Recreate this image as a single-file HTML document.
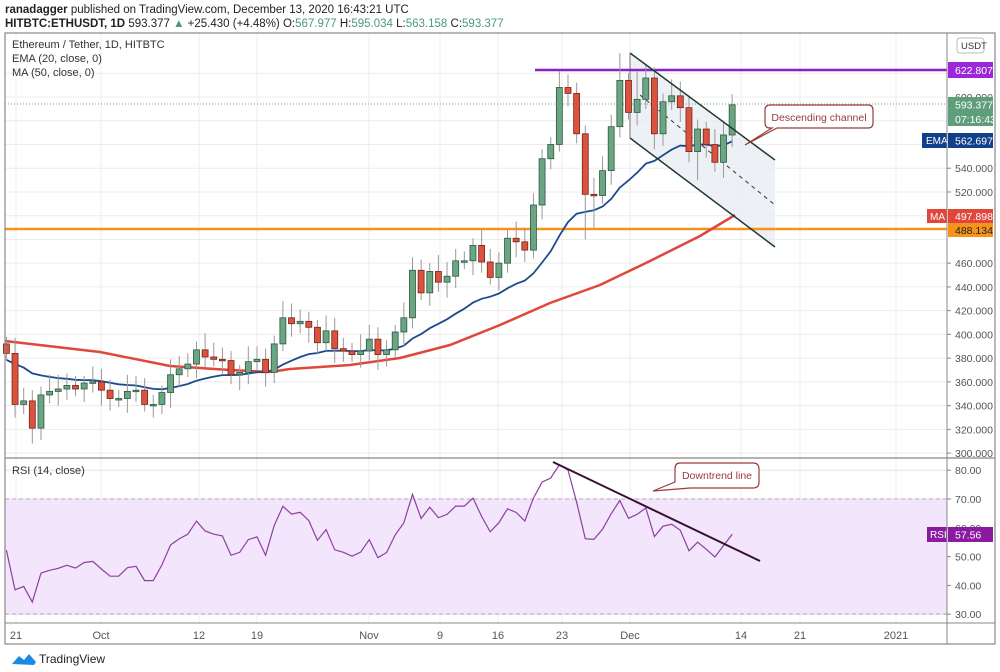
<!DOCTYPE html>
<html><head><meta charset="utf-8"><style>
html,body{margin:0;padding:0;background:#fff;width:1000px;height:672px;overflow:hidden}
svg text{font-family:"Liberation Sans",sans-serif}
</style></head><body>
<svg id="s" width="1000" height="672" xmlns="http://www.w3.org/2000/svg">
<rect width="1000" height="672" fill="#fff"/>
<text x="5" y="13" font-size="11.5" fill="#222"><tspan font-weight="bold">ranadagger</tspan> published on TradingView.com, December 13, 2020 16:43:21 UTC</text>
<text x="5" y="27" font-size="11.5" fill="#222"><tspan font-weight="bold">HITBTC:ETHUSDT, 1D</tspan> 593.377 <tspan fill="#4a9a7a">▲</tspan> +25.430 (+4.48%) O:<tspan fill="#4a9a7a">567.977</tspan> H:<tspan fill="#4a9a7a">595.034</tspan> L:<tspan fill="#4a9a7a">563.158</tspan> C:<tspan fill="#4a9a7a">593.377</tspan></text>
<g id="grid"></g>
<rect x="5" y="499" width="942" height="115" fill="#f3e5fc"/>
<line x1="5" y1="499" x2="947" y2="499" stroke="#b9a3c6" stroke-dasharray="4,3"/>
<line x1="5" y1="614" x2="947" y2="614" stroke="#b9a3c6" stroke-dasharray="4,3"/>
<g id="g2"></g>
<rect x="5" y="33" width="990" height="611" fill="none" stroke="#888" stroke-width="1.2"/>
<line x1="947" y1="33" x2="947" y2="644" stroke="#888"/>
<line x1="5" y1="458" x2="995" y2="458" stroke="#888" stroke-width="1.2"/>
<line x1="5" y1="623" x2="995" y2="623" stroke="#888"/>
<text x="12" y="48" font-size="11" fill="#333">Ethereum / Tether, 1D, HITBTC</text>
<text x="12" y="62" font-size="11" fill="#333">EMA (20, close, 0)</text>
<text x="12" y="76" font-size="11" fill="#333">MA (50, close, 0)</text>
<text x="12" y="474" font-size="11" fill="#333">RSI (14, close)</text>
<rect x="957" y="38" width="27" height="15" rx="3" fill="#fff" stroke="#bbb"/>
<text x="961" y="49" font-size="9.5" fill="#333">USDT</text>
<g font-size="11" fill="#555">
<text x="16" y="639" text-anchor="middle">21</text><text x="101" y="639" text-anchor="middle">Oct</text>
<text x="199" y="639" text-anchor="middle">12</text><text x="257" y="639" text-anchor="middle">19</text>
<text x="369" y="639" text-anchor="middle">Nov</text><text x="440" y="639" text-anchor="middle">9</text>
<text x="498" y="639" text-anchor="middle">16</text><text x="562" y="639" text-anchor="middle">23</text>
<text x="630" y="639" text-anchor="middle">Dec</text><text x="741" y="639" text-anchor="middle">14</text>
<text x="800" y="639" text-anchor="middle">21</text><text x="896" y="639" text-anchor="middle">2021</text>
</g>
<g transform="translate(12,652)"><path d="M0 12 L7 4 L12 8 L17 2 L24 10 L22 13 Z" fill="#1e88e5"/><text x="27" y="11" font-size="12" fill="#222">TradingView</text></g>
</svg>
<script>
var C=[384,341,344,321,349,352,354,357,354,359,360,353,346,346,352,353,341,341,351,366,371,375,387,381,379,378,366,368,377,379,368,392,414,409,411,406,393,403,388,386,383,386,396,383,387,402,414,454,435,453,444,449,462,462,475,461,448,460,481,478,471,509,548,560,608,603,569,518,517,538,575,614,587,598,616,569,596,601,591,554,573,560,545,568,593.4];
var O=[392];for(var i=1;i<C.length;i++)O.push(C[i-1]);
var HX={64:622,71:637,67:480,80:530,73:622,68:490};
function X(i){return 6.4+i*8.64}
function Y(p){return 97+(600-p)*1.187}
function RY(r){return 499+(70-r)*2.88}
var s='',g='';
for(var p=300;p<=620;p+=20){var y=Y(p);g+='<line x1="5" y1="'+y+'" x2="947" y2="'+y+'" stroke="#ececec"/>';
 if(![620,600,580,560,500,480].includes(p))g+='<line x1="947" y1="'+y+'" x2="951" y2="'+y+'" stroke="#888"/><text x="955" y="'+(y+4)+'" font-size="10.5" fill="#555">'+p+'.000</text>';}
g+='<text x="955" y="'+(Y(600)+4)+'" font-size="10.5" fill="#555">600.000</text>';
[30,40,50,60,70,80].forEach(function(r){var y=RY(r);g+='<line x1="5" y1="'+y+'" x2="947" y2="'+y+'" stroke="#e4dde8"/><line x1="947" y1="'+y+'" x2="951" y2="'+y+'" stroke="#888"/><text x="955" y="'+(y+4)+'" font-size="10.5" fill="#555">'+r+'.00</text>';});
[16,101,199,257,369,440,498,562,630,741,800,896].forEach(function(x){g+='<line x1="'+x+'" y1="33" x2="'+x+'" y2="623" stroke="#ececec"/>';});
document.getElementById('grid').innerHTML=g;
s+='<polygon points="630,53 775,160 775,247 630,138" fill="#e9edf2" opacity="0.8"/>';
s+='<line x1="630" y1="53" x2="630" y2="138" stroke="#555" stroke-width="0.8"/>';
s+='<line x1="640" y1="95" x2="775" y2="205" stroke="#333" stroke-dasharray="4,4" stroke-width="1"/>';
s+='<line x1="5" y1="229" x2="947" y2="229" stroke="#f7931a" stroke-width="2.5"/>';
s+='<line x1="535" y1="70" x2="947" y2="70" stroke="#8b1fc4" stroke-width="2.5"/>';
s+='<line x1="5" y1="104" x2="947" y2="104" stroke="#6aa584" stroke-dasharray="1,2"/>';
var mp=[[5,341],[100,352],[170,366],[230,370],[270,372],[290,369],[350,365],[400,358],[450,345],[500,325],[550,303],[600,285],[650,261],[700,236],[735,215]];
s+='<polyline points="'+mp.join(' ')+'" fill="none" stroke="#e0463a" stroke-width="2.5"/>';
var e=378,ep=[],k=2/21;for(i=0;i<C.length;i++){e=C[i]*k+e*(1-k);ep.push(X(i).toFixed(1)+','+Y(e).toFixed(1));}
s+='<polyline points="'+ep.join(' ')+'" fill="none" stroke="#1d4a8f" stroke-width="1.8"/>';
for(i=0;i<C.length;i++){var o=O[i],c=C[i],up=c>=o,hi=Math.max(o,c)+6+(i*7%9),lo=Math.min(o,c)-6-(i*5%8);
 if(HX[i]){if(HX[i]>Math.max(o,c))hi=HX[i];else lo=HX[i];}
 var x=X(i),t=Y(Math.max(o,c)),b=Y(Math.min(o,c));if(b-t<1.5)b=t+1.5;
 s+='<line x1="'+x+'" y1="'+Y(hi)+'" x2="'+x+'" y2="'+Y(lo)+'" stroke="#999"/>';
 s+='<rect x="'+(x-3)+'" y="'+t+'" width="6" height="'+(b-t)+'" fill="'+(up?'#6ba584':'#d9533f')+'" stroke="'+(up?'#2c5a40':'#7a2318')+'" stroke-width="0.8"/>';}
s+='<line x1="630" y1="53" x2="775" y2="160" stroke="#1d3a33" stroke-width="1.5"/>';
s+='<line x1="630" y1="138" x2="775" y2="247" stroke="#1d3a33" stroke-width="1.5"/>';
var ag=5.2,al=4.6,rp=[];for(i=0;i<C.length;i++){var d=i?C[i]-C[i-1]:-2;ag=(ag*13+Math.max(d,0))/14;al=(al*13+Math.max(-d,0))/14;var r=100-100/(1+ag/al);rp.push(X(i).toFixed(1)+','+RY(r).toFixed(1));}
s+='<polyline points="'+rp.join(' ')+'" fill="none" stroke="#8e3fa0" stroke-width="1.2"/>';
s+='<line x1="553" y1="462" x2="760" y2="561" stroke="#3a1030" stroke-width="2"/>';
s+='<path d="M770 105 H868 Q873 105 873 110 V123 Q873 128 868 128 H777 L745 145 L772 128 H770 Q765 128 765 123 V110 Q765 105 770 105Z" fill="#fff" stroke="#9b3a3a" stroke-width="1.2"/><text x="819" y="121" font-size="10.5" fill="#9b3a3a" text-anchor="middle">Descending channel</text>';
s+='<path d="M680 463 H753 Q759 463 759 469 V482 Q759 488 753 488 H690 L653 491 L675 482 V469 Q675 463 680 463Z" fill="#fff" stroke="#9b3a3a" stroke-width="1.2"/><text x="717" y="479" font-size="10.5" fill="#9b3a3a" text-anchor="middle">Downtrend line</text>';
function lab(y,h,bg,t){return '<rect x="948" y="'+y+'" width="45" height="'+h+'" fill="'+bg+'"/><text x="955" y="'+(y+h/2+4)+'" font-size="10.5" fill="#fff">'+t+'</text>';}
s+=lab(62,16,'#9c27d8','622.807');
s+=lab(97,15,'#5e9e7a','593.377');
s+=lab(112,14,'#5e9e7a','07:16:43');
s+=lab(133,15,'#123f8c','562.697');
s+='<rect x="922" y="133" width="25" height="15" fill="#123f8c"/><text x="926" y="144" font-size="10" fill="#fff">EMA</text>';
s+=lab(209,14,'#e0463a','497.898');
s+='<rect x="927" y="209" width="20" height="14" fill="#e0463a"/><text x="930" y="220" font-size="10" fill="#fff">MA</text>';
s+='<rect x="948" y="223" width="45" height="14" fill="#f7931a"/><text x="955" y="234" font-size="10.5" fill="#222">488.134</text>';
s+=lab(527,15,'#8a1ba0','57.56');
s+='<rect x="927" y="527" width="20" height="15" fill="#8a1ba0"/><text x="930" y="538" font-size="10" fill="#fff">RSI</text>';
document.getElementById('g2').innerHTML=s;
</script>
</body></html>
